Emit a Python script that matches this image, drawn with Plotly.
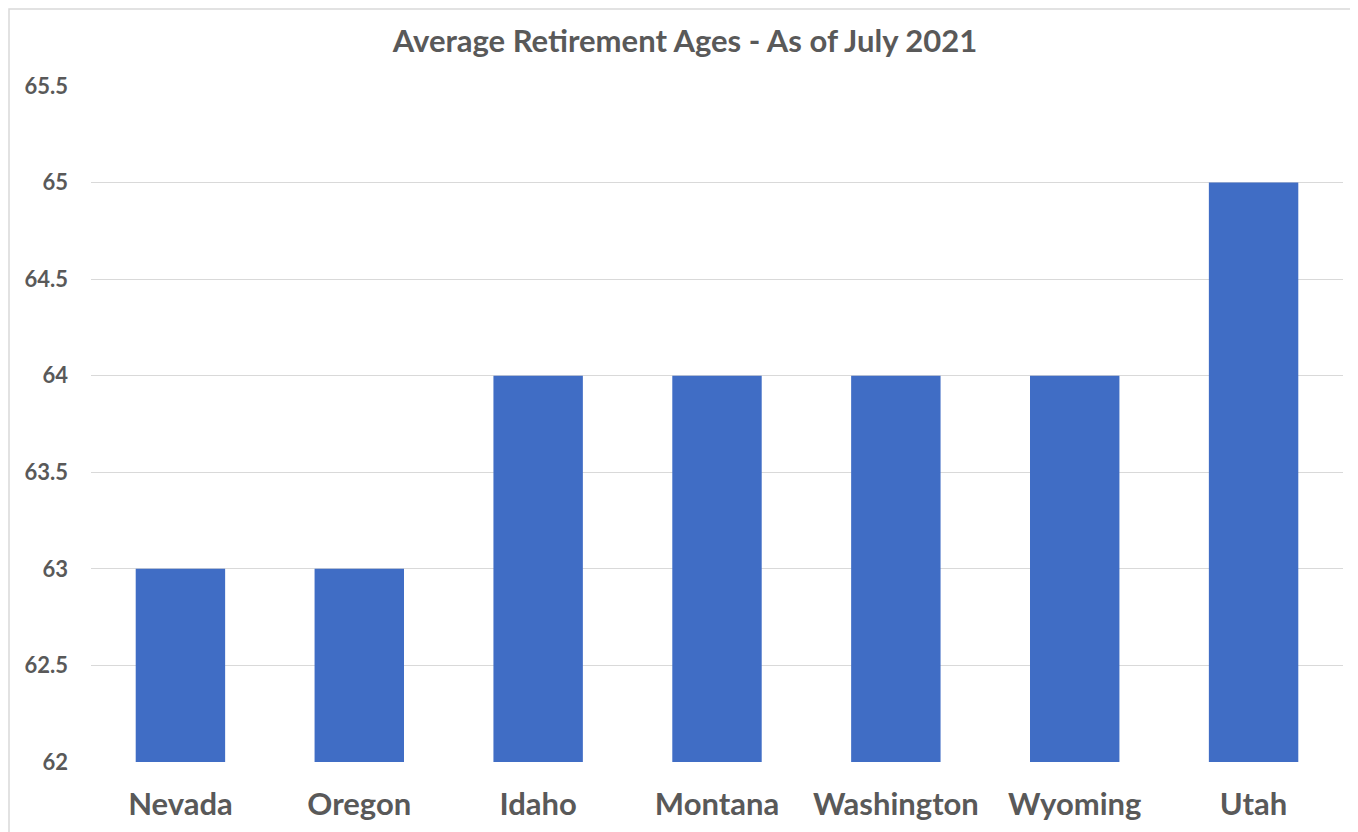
import plotly.graph_objects as go

states = ["Nevada", "Oregon", "Idaho", "Montana", "Washington", "Wyoming", "Utah"]
ages = [63, 63, 64, 64, 64, 64, 65]
y_ticks = [62, 62.5, 63, 63.5, 64, 64.5, 65, 65.5]
y_tick_labels = ["62", "62.5", "63", "63.5", "64", "64.5", "65", "65.5"]
title_text = "Average Retirement Ages - As of July 2021"

TEXT = "#595959"
FONT = "Lato"

W, H = 1358, 832
ML, MR, MT, MB = 83, 23, 78, 78
PW, PH = W - ML - MR, H - MT - MB

fig = go.Figure(
    go.Bar(
        x=states,
        y=ages,
        base=0,
        marker=dict(color="#406DC5", line=dict(width=0)),
        hoverinfo="x+y",
    )
)

fig.update_layout(
    width=W,
    height=H,
    margin=dict(l=ML, r=MR, t=MT, b=MB),
    paper_bgcolor="white",
    plot_bgcolor="white",
    bargap=0.5,
    showlegend=False,
    title=dict(
        text=title_text,
        x=(685 - 8) / W,
        xref="container",
        xanchor="center",
        y=1 - 33 / H,
        yref="container",
        yanchor="middle",
        font=dict(family=FONT, size=31, color=TEXT, weight="bold"),
    ),
    xaxis=dict(
        showgrid=False,
        showline=False,
        ticks="",
        tickfont=dict(family=FONT, size=31, color=TEXT, weight="bold"),
        ticklabelstandoff=21,
    ),
    yaxis=dict(
        range=[62, 65.5],
        tickvals=y_ticks,
        ticktext=y_tick_labels,
        showgrid=True,
        gridcolor="#D9D9D9",
        gridwidth=1,
        zeroline=False,
        showline=False,
        ticks="",
        tickfont=dict(family=FONT, size=22, color=TEXT, weight="bold"),
        ticklabelstandoff=22,
    ),
    shapes=[
        dict(
            type="rect",
            xref="paper",
            yref="paper",
            x0=(1 - ML) / PW,
            x1=(W + 10 - ML) / PW,
            y0=-(MB + 10) / PH,
            y1=(PH + MT - 1) / PH,
            line=dict(color="#D9D9D9", width=1.5),
            fillcolor="rgba(0,0,0,0)",
            layer="below",
        )
    ],
)

fig.write_html("out.html")
